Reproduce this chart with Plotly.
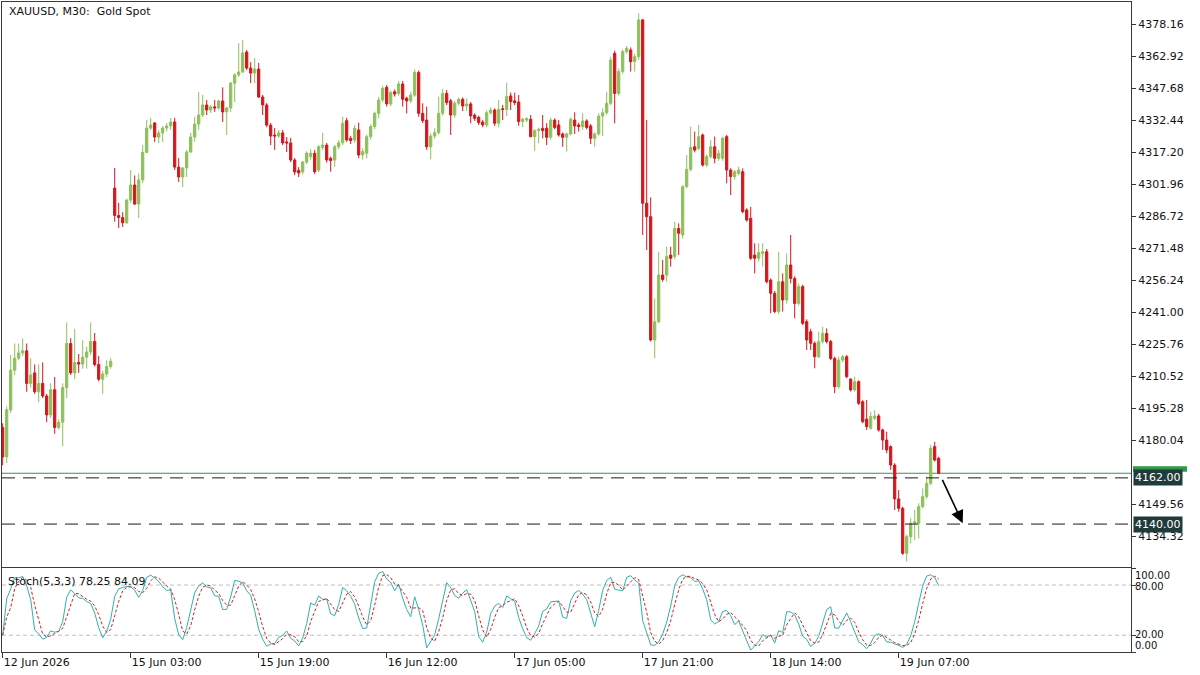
import plotly.graph_objects as go

# ---------------- data ----------------
title_text = "XAUUSD, M30:  Gold Spot"
stoch_text = "Stoch(5,3,3) 78.25 84.09"

opens = [
    4186.0, 4172.0, 4194.3, 4213.3, 4219.0, 4221.5, 4222.5, 4207.0, 4212.0, 4203.0,
    4207.0, 4201.0, 4192.0, 4204.0, 4186.0, 4188.5, 4205.0, 4226.0, 4212.0, 4217.0,
    4216.2, 4219.5, 4222.0, 4227.0, 4216.0, 4209.0, 4211.5, 4215.0, 4300.0, 4287.0,
    4286.0, 4283.5, 4294.3, 4301.5, 4292.4, 4303.9, 4317.0, 4328.6, 4331.0, 4324.3,
    4326.3, 4328.6, 4329.6, 4331.5, 4310.0, 4305.3, 4309.6, 4317.2, 4324.3, 4330.5,
    4334.8, 4339.6, 4337.2, 4338.7, 4338.2, 4341.5, 4336.3, 4338.2, 4350.0, 4353.9,
    4355.3, 4364.8, 4357.2, 4354.8, 4356.7, 4343.4, 4339.6, 4330.0, 4325.3, 4324.8,
    4326.3, 4322.0, 4321.5, 4313.4, 4308.5, 4307.7, 4312.4, 4315.0, 4316.6, 4308.6,
    4319.4, 4320.5, 4314.2, 4313.4, 4319.7, 4321.6, 4332.1, 4323.7, 4322.9, 4327.7,
    4315.8, 4316.6, 4324.5, 4329.3, 4335.6, 4342.0, 4348.0, 4340.1, 4345.9, 4345.1,
    4349.6, 4342.8, 4341.6, 4344.3, 4355.1, 4335.6, 4332.4, 4319.7, 4324.8, 4326.4,
    4335.6, 4345.1, 4341.6, 4334.8, 4340.4, 4342.3, 4339.1, 4340.1, 4334.8, 4333.7,
    4331.5, 4330.1, 4335.9, 4337.2, 4330.9, 4337.8, 4337.5, 4343.9, 4341.6, 4341.0,
    4331.7, 4332.4, 4332.8, 4324.5, 4327.4, 4328.5, 4328.5, 4324.2, 4332.4, 4330.1,
    4325.8, 4324.2, 4325.8, 4332.4, 4330.1, 4329.3, 4332.0, 4329.6, 4323.7, 4325.8,
    4334.3, 4335.9, 4340.4, 4364.2, 4345.1, 4355.5, 4365.0, 4365.8, 4360.2, 4362.6,
    4380.1, 4292.8, 4286.4, 4227.7, 4236.4, 4258.6, 4258.6, 4268.1, 4267.4, 4280.8,
    4277.7, 4300.7, 4308.9, 4319.7, 4318.9, 4325.3, 4311.0, 4315.0, 4319.7, 4314.2,
    4314.2, 4324.5, 4308.6, 4305.5, 4307.0, 4307.8, 4289.6, 4285.6, 4268.1, 4266.6,
    4268.9, 4269.7, 4256.2, 4249.9, 4241.2, 4255.4, 4246.7, 4263.4, 4257.0, 4245.1,
    4253.1, 4236.4, 4231.6, 4226.1, 4219.7, 4226.9, 4230.8, 4226.9, 4218.9, 4205.4,
    4218.1, 4219.7, 4209.0, 4203.9, 4207.8, 4198.3, 4190.0, 4185.6, 4190.4, 4191.5,
    4184.8, 4180.0, 4176.9, 4168.1, 4152.0, 4147.5, 4126.1, 4134.0, 4140.4, 4140.4,
    4148.3, 4153.1, 4159.4, 4176.9, 4171.3,
]
highs = [
    4188.0, 4196.0, 4220.5, 4226.0, 4226.0, 4228.5, 4226.0, 4219.0, 4216.0, 4216.0,
    4217.0, 4202.0, 4207.0, 4210.0, 4190.0, 4207.0, 4236.0, 4228.5, 4233.0, 4221.0,
    4227.5, 4224.5, 4236.0, 4231.0, 4220.0, 4213.0, 4218.0, 4219.0, 4309.6, 4293.0,
    4288.5, 4295.0, 4308.6, 4306.0, 4307.0, 4320.5, 4332.4, 4333.4, 4331.5, 4327.7,
    4329.6, 4331.0, 4333.4, 4333.4, 4314.3, 4310.0, 4318.2, 4326.3, 4334.0, 4345.8,
    4344.4, 4342.0, 4339.6, 4342.0, 4342.0, 4348.0, 4338.7, 4350.5, 4354.8, 4369.0,
    4370.5, 4365.8, 4360.0, 4362.0, 4359.6, 4344.4, 4340.5, 4331.0, 4328.6, 4327.7,
    4327.7, 4324.3, 4323.9, 4314.3, 4310.0, 4313.0, 4317.5, 4318.5, 4318.2, 4320.5,
    4326.4, 4321.5, 4315.0, 4320.5, 4322.9, 4334.0, 4333.5, 4324.8, 4330.1, 4331.2,
    4319.0, 4325.5, 4330.5, 4336.4, 4343.5, 4348.6, 4349.1, 4346.5, 4347.0, 4351.0,
    4351.0, 4343.5, 4345.9, 4356.5, 4356.0, 4340.4, 4338.8, 4326.0, 4328.5, 4343.6,
    4347.2, 4346.7, 4342.5, 4341.5, 4343.2, 4343.2, 4342.8, 4341.0, 4335.6, 4334.5,
    4332.4, 4337.0, 4338.5, 4338.0, 4342.0, 4339.6, 4350.2, 4345.5, 4345.5, 4344.3,
    4333.5, 4333.7, 4334.8, 4328.0, 4328.8, 4334.8, 4330.9, 4333.5, 4333.2, 4332.4,
    4326.5, 4326.5, 4333.7, 4336.1, 4331.2, 4335.6, 4332.8, 4330.5, 4326.5, 4335.6,
    4338.0, 4345.9, 4362.6, 4365.5, 4357.0, 4366.0, 4367.7, 4367.0, 4364.0, 4383.2,
    4380.6, 4332.4, 4295.6, 4247.5, 4269.7, 4265.8, 4272.1, 4272.1, 4284.0, 4283.2,
    4301.5, 4315.8, 4329.3, 4326.9, 4330.1, 4326.0, 4316.0, 4322.9, 4324.5, 4318.1,
    4324.5, 4325.3, 4309.5, 4308.6, 4310.2, 4309.4, 4290.4, 4291.0, 4273.7, 4273.7,
    4273.7, 4271.0, 4257.0, 4251.0, 4269.7, 4259.4, 4268.9, 4277.7, 4258.0, 4254.6,
    4254.0, 4237.5, 4233.0, 4227.0, 4231.6, 4234.0, 4233.2, 4227.7, 4219.7, 4219.7,
    4220.5, 4220.5, 4209.5, 4210.2, 4208.5, 4199.0, 4199.1, 4193.5, 4194.3, 4192.5,
    4185.5, 4184.0, 4177.5, 4169.0, 4156.2, 4148.3, 4135.0, 4142.7, 4146.7, 4149.9,
    4157.0, 4162.6, 4177.7, 4179.2, 4172.1,
]
lows = [
    4168.0, 4169.0, 4193.0, 4211.0, 4218.0, 4220.0, 4203.0, 4205.0, 4202.0, 4198.0,
    4200.0, 4188.5, 4190.5, 4183.0, 4185.0, 4177.0, 4200.0, 4211.0, 4209.0, 4212.0,
    4214.0, 4214.0, 4220.5, 4215.0, 4208.0, 4202.0, 4210.0, 4214.0, 4284.0, 4281.0,
    4281.5, 4283.0, 4293.0, 4292.0, 4285.8, 4302.4, 4316.7, 4327.7, 4322.0, 4321.5,
    4322.0, 4327.0, 4327.7, 4308.6, 4302.9, 4300.5, 4305.3, 4316.7, 4322.0, 4327.7,
    4333.9, 4334.8, 4335.8, 4336.3, 4337.2, 4331.5, 4325.3, 4336.3, 4341.0, 4352.9,
    4354.8, 4356.2, 4350.0, 4350.0, 4342.9, 4334.8, 4329.0, 4320.5, 4318.2, 4323.9,
    4320.5, 4317.2, 4312.4, 4306.2, 4305.3, 4306.5, 4311.5, 4313.5, 4306.7, 4307.5,
    4318.0, 4312.1, 4307.8, 4310.2, 4318.5, 4320.5, 4322.1, 4321.0, 4321.5, 4314.2,
    4313.5, 4314.2, 4323.0, 4328.0, 4333.2, 4341.0, 4338.8, 4339.0, 4343.6, 4344.0,
    4338.8, 4335.6, 4340.5, 4343.5, 4334.0, 4331.0, 4318.2, 4313.7, 4323.5, 4325.5,
    4334.5, 4339.5, 4325.3, 4333.5, 4339.5, 4336.7, 4336.7, 4330.9, 4332.0, 4330.0,
    4329.0, 4329.0, 4335.0, 4329.6, 4329.0, 4332.4, 4334.3, 4337.2, 4339.5, 4329.7,
    4329.0, 4331.5, 4324.2, 4317.8, 4321.3, 4323.7, 4320.5, 4323.0, 4328.0, 4324.5,
    4319.7, 4317.4, 4325.0, 4325.8, 4326.9, 4327.7, 4328.0, 4321.0, 4319.7, 4325.0,
    4324.8, 4335.0, 4339.5, 4330.9, 4344.0, 4354.5, 4364.0, 4355.5, 4355.5, 4361.0,
    4277.7, 4270.5, 4226.9, 4219.0, 4235.6, 4255.4, 4255.4, 4262.6, 4266.0, 4268.1,
    4276.0, 4300.0, 4308.0, 4317.0, 4318.0, 4310.2, 4310.0, 4314.0, 4311.8, 4313.0,
    4313.0, 4302.3, 4296.7, 4304.0, 4306.0, 4288.0, 4284.0, 4265.8, 4259.4, 4265.0,
    4262.6, 4254.6, 4240.4, 4240.4, 4240.0, 4241.2, 4245.0, 4254.6, 4238.0, 4244.0,
    4234.8, 4222.9, 4222.9, 4214.2, 4219.0, 4226.0, 4226.0, 4218.1, 4202.3, 4204.5,
    4217.0, 4209.4, 4203.1, 4203.0, 4196.7, 4188.0, 4184.8, 4185.0, 4189.5, 4184.0,
    4175.3, 4173.7, 4165.8, 4146.7, 4145.9, 4125.3, 4122.1, 4130.8, 4132.4, 4133.2,
    4147.5, 4152.0, 4158.5, 4169.8, 4163.8,
]
closes = [
    4172.0, 4194.5, 4213.3, 4219.0, 4221.5, 4222.5, 4207.0, 4211.0, 4203.0, 4207.0,
    4201.0, 4192.0, 4204.0, 4186.0, 4188.5, 4205.0, 4226.0, 4212.0, 4217.0, 4216.2,
    4219.5, 4222.0, 4227.0, 4216.0, 4209.0, 4211.5, 4215.0, 4217.5, 4287.0, 4286.0,
    4283.5, 4294.3, 4301.5, 4292.4, 4303.9, 4317.0, 4328.6, 4330.0, 4324.3, 4326.3,
    4328.6, 4329.6, 4331.5, 4310.0, 4305.3, 4309.6, 4317.2, 4324.3, 4330.5, 4334.8,
    4339.6, 4337.2, 4338.7, 4338.2, 4341.5, 4336.3, 4338.2, 4350.0, 4353.9, 4355.3,
    4364.4, 4357.2, 4354.8, 4356.7, 4343.4, 4339.6, 4330.0, 4324.8, 4324.8, 4326.3,
    4321.5, 4321.5, 4313.4, 4307.7, 4307.2, 4312.4, 4316.7, 4316.6, 4307.8, 4319.7,
    4320.5, 4313.4, 4313.1, 4319.7, 4321.6, 4330.9, 4322.9, 4322.6, 4328.5, 4315.8,
    4317.4, 4324.5, 4329.3, 4335.6, 4342.0, 4347.5, 4340.1, 4345.5, 4344.8, 4349.6,
    4342.3, 4341.5, 4344.3, 4355.1, 4335.6, 4332.1, 4319.7, 4324.8, 4326.4, 4335.6,
    4345.1, 4340.7, 4334.8, 4340.4, 4342.3, 4339.1, 4340.1, 4334.4, 4333.2, 4331.2,
    4330.1, 4335.9, 4337.2, 4330.9, 4337.5, 4337.5, 4343.6, 4341.2, 4340.7, 4331.7,
    4332.8, 4333.2, 4324.5, 4327.4, 4328.0, 4327.4, 4324.2, 4332.4, 4328.9, 4325.3,
    4324.2, 4325.8, 4332.8, 4329.6, 4329.3, 4332.0, 4328.9, 4323.7, 4325.8, 4334.3,
    4335.9, 4340.4, 4361.0, 4345.1, 4355.5, 4365.0, 4366.6, 4360.2, 4362.6, 4380.1,
    4292.8, 4286.4, 4227.7, 4236.4, 4258.6, 4256.5, 4267.4, 4266.6, 4280.8, 4278.5,
    4300.7, 4308.9, 4319.4, 4318.1, 4324.5, 4311.0, 4315.0, 4319.7, 4314.2, 4316.6,
    4323.7, 4308.6, 4305.5, 4307.8, 4308.6, 4288.8, 4284.8, 4266.6, 4266.6, 4269.3,
    4269.7, 4255.4, 4249.9, 4241.2, 4255.4, 4246.7, 4263.4, 4257.0, 4245.1, 4253.1,
    4235.6, 4227.7, 4226.1, 4219.7, 4226.9, 4230.8, 4226.9, 4218.9, 4205.4, 4218.1,
    4219.7, 4210.2, 4203.9, 4207.8, 4197.5, 4188.8, 4186.4, 4191.2, 4191.5, 4184.8,
    4180.0, 4175.3, 4168.1, 4152.0, 4147.5, 4126.1, 4134.0, 4140.4, 4141.1, 4148.3,
    4153.1, 4159.4, 4176.1, 4170.5, 4164.2,
]

x_tick_index = [0, 32, 64, 96, 128, 160, 192, 224]
x_tick_labels = ["12 Jun 2026", "15 Jun 03:00", "15 Jun 19:00", "16 Jun 12:00",
                 "17 Jun 05:00", "17 Jun 21:00", "18 Jun 14:00", "19 Jun 07:00"]
price_ticks = [4378.16, 4362.92, 4347.68, 4332.44, 4317.20, 4301.96, 4286.72,
               4271.48, 4256.24, 4241.00, 4225.76, 4210.52, 4195.28, 4180.04,
               4149.56, 4134.32]
level_prices = [4162.00, 4140.00]
arrow_from = (234.75, 4161.8)
arrow_to = (240.0, 4140.4)
stoch_levels = [20, 80]
stoch_axis_labels = ["100.00", "80.00", "20.00", "0.00"]

# ---------------- stochastic (5,3,3) from the OHLC above ----------------
n = len(closes)
idx = list(range(n))
kper, slow, dper = 5, 3, 3
hh = [max(highs[max(0, i - kper + 1):i + 1]) for i in range(n)]
ll = [min(lows[max(0, i - kper + 1):i + 1]) for i in range(n)]
k_line = []
for i in range(n):
    js = range(max(0, i - slow + 1), i + 1)
    num = sum(closes[j] - ll[j] for j in js)
    den = sum(hh[j] - ll[j] for j in js)
    k_line.append(100.0 * num / den if den else 50.0)
d_line = []
for i in range(n):
    w = k_line[max(0, i - dper + 1):i + 1]
    d_line.append(sum(w) / len(w))

# ---------------- styling ----------------
GREEN = "#8dc05a"
RED = "#d3161c"
AX = "#3a3a3a"
FONT = "DejaVu Sans"

W, H = 1200, 675
ML, MR, MT, MB = 2, 69, 2, 23
pw = W - ML - MR
ph = H - MT - MB
px_per_bar = 4.0
first_bar_px = 2.7
r0 = -(first_bar_px - ML) / px_per_bar
r1 = r0 + pw / px_per_bar

main_bottom_px = 566.5
stoch_top_px = 568.3
main_dom = [(H - MB - main_bottom_px) / ph, 1]
stoch_dom = [0, (H - MB - stoch_top_px) / ph]
p_per_px = 15.24 / 32.0
y_top = 4378.16 + (24 - MT) * p_per_px
y_bot = 4378.16 - (main_bottom_px - 24) * p_per_px


def py(pix):
    return (H - MB - pix) / ph


fig = go.Figure()
fig.add_trace(go.Candlestick(
    x=idx, open=opens, high=highs, low=lows, close=closes,
    increasing=dict(line=dict(color=GREEN, width=1), fillcolor=GREEN),
    decreasing=dict(line=dict(color=RED, width=1), fillcolor=RED),
    whiskerwidth=0, hoverinfo="skip", xaxis="x", yaxis="y", showlegend=False,
))
fig.add_trace(go.Scatter(
    x=idx, y=k_line, mode="lines", line=dict(color="#2fb0b0", width=1),
    xaxis="x2", yaxis="y2", showlegend=False, hoverinfo="skip",
))
fig.add_trace(go.Scatter(
    x=idx, y=d_line, mode="lines", line=dict(color="#d42020", width=1, dash="3px,2px"),
    xaxis="x2", yaxis="y2", showlegend=False, hoverinfo="skip",
))

shapes = []
bid = closes[-1]
shapes.append(dict(type="line", xref="paper", x0=0, x1=1, yref="y", y0=bid, y1=bid,
                   line=dict(color="#2e9a45", width=1), layer="below"))
for lv in level_prices:
    shapes.append(dict(type="line", xref="paper", x0=0, x1=1, yref="y", y0=lv, y1=lv,
                       line=dict(color="#1a1a1a", width=1, dash="13px,8px")))
for lv in stoch_levels:
    shapes.append(dict(type="line", xref="paper", x0=0, x1=1, yref="y2", y0=lv, y1=lv,
                       line=dict(color="#c0c0c0", width=1, dash="4px,3px"), layer="below"))

label_x = (1133 - ML) / pw
label_x1 = (1187 - ML) / pw
# green bid tag, mostly hidden behind the 4162.00 tag
shapes.append(dict(type="rect", xref="paper", yref="y", x0=label_x, x1=label_x1,
                   y0=bid + 1.5 * p_per_px, y1=bid + 7 * p_per_px,
                   fillcolor="#2e9a45", line=dict(width=0)))

annotations = [
    dict(text=title_text, xref="paper", yref="paper", x=(7 - ML) / pw,
         y=py(12), xanchor="left", yanchor="middle", showarrow=False,
         font=dict(family=FONT, size=11, color="#111111")),
    dict(text=stoch_text, xref="paper", yref="paper", x=(6 - ML) / pw,
         y=py(581), xanchor="left", yanchor="middle", showarrow=False,
         font=dict(family=FONT, size=11, color="#111111")),
]
for txt, pix in zip(stoch_axis_labels, [575.0, 586.0, 634.5, 645.5]):
    annotations.append(dict(text=txt, xref="paper", yref="paper", x=label_x,
                            y=py(pix), xanchor="left", yanchor="middle", showarrow=False,
                            font=dict(family=FONT, size=10, color="#111111")))
for lv in level_prices:
    annotations.append(dict(text=f"{lv:.2f}", xref="paper", yref="y", x=label_x, y=lv,
                            xanchor="left", yanchor="middle", showarrow=False,
                            bgcolor="#1f3b3a", borderpad=1,
                            font=dict(family=FONT, size=11, color="white")))
annotations.append(dict(text="", x=arrow_to[0], y=arrow_to[1], xref="x", yref="y",
                        ax=arrow_from[0], ay=arrow_from[1], axref="x", ayref="y",
                        showarrow=True, arrowhead=2, arrowsize=1.6, arrowwidth=1.6,
                        arrowcolor="#000000"))

fig.update_layout(
    width=W, height=H,
    margin=dict(l=ML, r=MR, t=MT, b=MB),
    paper_bgcolor="white", plot_bgcolor="white",
    font=dict(family=FONT, size=11, color="#111111"),
    showlegend=False,
    boxgap=0.45, boxgroupgap=0,
    xaxis=dict(domain=[0, 1], range=[r0, r1], anchor="y", showticklabels=False,
               ticks="", showline=True, mirror=True, linecolor=AX, linewidth=1,
               showgrid=False, zeroline=False, rangeslider=dict(visible=False),
               fixedrange=True),
    xaxis2=dict(domain=[0, 1], range=[r0, r1], anchor="y2", matches="x",
                tickmode="array", tickvals=x_tick_index, ticktext=x_tick_labels,
                ticks="outside", ticklen=5, tickcolor=AX, ticklabelposition="outside right",
                showline=True, mirror=True, linecolor=AX, linewidth=1,
                showgrid=False, zeroline=False,
                tickfont=dict(family=FONT, size=11, color="#111111")),
    yaxis=dict(domain=main_dom, range=[y_bot, y_top], side="right", anchor="x",
               tickmode="array", tickvals=price_ticks,
               ticktext=[f"{v:.2f}" for v in price_ticks],
               ticks="outside", ticklen=4, tickcolor=AX,
               showline=True, mirror=True, linecolor=AX, linewidth=1,
               showgrid=False, zeroline=False,
               tickfont=dict(family=FONT, size=11, color="#111111")),
    yaxis2=dict(domain=stoch_dom, range=[0, 100], side="right", anchor="x2",
                tickmode="array", tickvals=[0, 20, 80, 100],
                showticklabels=False,
                ticks="outside", ticklen=4, tickcolor=AX,
                showline=True, mirror=True, linecolor=AX, linewidth=1,
                showgrid=False, zeroline=False),
    shapes=shapes,
    annotations=annotations,
)

fig.write_html("out.html", config={"displayModeBar": False},
               post_script="document.body.style.margin='0px';")
